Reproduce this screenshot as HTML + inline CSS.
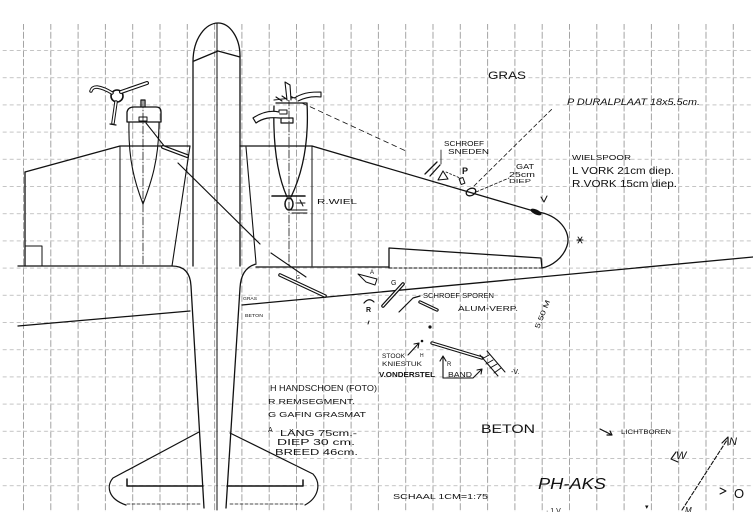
<!DOCTYPE html>
<html><head><meta charset="utf-8"><style>
html,body{margin:0;padding:0;background:#fff;}
svg{display:block;}
text{font-family:"Liberation Sans",sans-serif;fill:#111;}
</style></head><body>
<svg width="753" height="512" viewBox="0 0 753 512" xmlns="http://www.w3.org/2000/svg">
<defs>
<pattern id="g" patternUnits="userSpaceOnUse" x="23" y="50" width="27.3" height="27.2">
<path d="M0.5,0 V27.2" stroke="#9a9a9a" stroke-width="0.9" stroke-dasharray="7 2"/>
<path d="M0,0.5 H27.3" stroke="#c4c4c4" stroke-width="0.9" stroke-dasharray="4 3"/>
</pattern>
</defs>
<rect width="753" height="512" fill="#fff"/>
<rect x="0" y="24" width="753" height="488" fill="url(#g)"/>

<g fill="none" stroke="#111" stroke-width="1.3" stroke-linecap="round" stroke-linejoin="round">
<!-- fuselage -->
<path d="M193,62 C193,38 206,23 218,23 C230,23 240,38 240,56"/>
<path d="M194,61 L218,51 L240,57"/>
<path d="M193,62 L193,266"/>
<path d="M240,56 L240,266"/>
<path d="M217,23 L217,510" stroke-width="1"/>
<path d="M172,266 Q190,266 191,286 L204,508"/>
<path d="M190,146 L172,266" stroke-width="1.1"/>
<path d="M246,147 L256,263" stroke-width="1.1"/>
<path d="M256,264 Q241,268 240,288 L226,508"/>

<!-- left wing -->
<path d="M25,172 L120,146 L190,146"/>
<path d="M25,172 L25,266"/>
<path d="M18,266 L172,266"/>
<path d="M25,246 L42,246 L42,266" stroke-width="1"/>
<path d="M120,146 L120,266" stroke-width="1"/>
<path d="M143,100 L143,266" stroke-width="0.8" stroke-dasharray="8 2 1 2"/>

<!-- right wing -->
<path d="M240,146 L312,146 L537,212"/>
<path d="M312,146 L312,266" stroke-width="1"/>
<path d="M289,85 L289,266" stroke-width="0.8" stroke-dasharray="8 2 1 2"/>
<path d="M256,267 L389,267"/>
<path d="M389,268 L542,268" stroke-dasharray="3 2" stroke-width="1"/>
<path d="M389,268 L389,248 L541,258 L542,268"/>
<path d="M537,212 C558,214 572,232 567,246 C563,258 552,266 542,268"/>

<!-- left nacelle -->
<path d="M127,122 L127,112 Q128,107 134,107 L156,107 Q161,107 161,112 L161,122 Z"/>
<path d="M129,122 C128,160 135,183 143,204 C151,183 159,160 159,122" stroke-width="1.1"/>
<path d="M141,107 L141,100 L145,100 L145,107"/>
<rect x="139" y="117" width="8" height="4" stroke-width="1"/>
<path d="M146,123 L165,147" stroke-width="1.1"/>
<path d="M163,147 L187,156" stroke-width="4"/>
<path d="M163,147 L187,156" stroke="#fff" stroke-width="1.6"/>

<!-- left prop -->
<circle cx="117" cy="96" r="6" stroke-width="1.6"/>
<path d="M121,92 L147,83" stroke-width="4"/>
<path d="M121,92 L147,83" stroke="#fff" stroke-width="1.8"/>
<path d="M112,93 Q104,88 97,87 Q92,87 91,91" stroke-width="3.5"/>
<path d="M112,93 Q104,88 97,87 Q92,87 91,91" stroke="#fff" stroke-width="1.5"/>
<path d="M116,102 L113,123" stroke-width="3.5"/>
<path d="M116,102 L113,123" stroke="#fff" stroke-width="1.5"/>
<path d="M110,124 L116,125" stroke-width="1.2"/>

<!-- right nacelle -->
<path d="M276,103 L306,103"/>
<path d="M274,106 C273,140 276,172 287,197"/>
<path d="M307,103 C309,140 303,172 291,197"/>
<rect x="279" y="110" width="8" height="4" stroke-width="1"/>
<rect x="281" y="118" width="12" height="5" stroke-width="1.2"/>
<path d="M274,100 L300,97 M276,97 L282,101 M282,96 L288,100 M290,96 L296,99" stroke-width="1.1"/>
<path d="M279,112 C270,110 262,112 253,118 L256,123 C263,118 270,117 280,118" fill="#fff" stroke-width="1.2"/>
<path d="M287,100 L285,82 L290,85 L291,100" fill="#fff" stroke-width="1.1"/>
<path d="M296,97 C305,92 313,92 321,92 L321,97 C313,96 306,97 298,101" fill="#fff" stroke-width="1.1"/>
<path d="M302,103 L408,152" stroke-width="0.8" stroke-dasharray="5 4"/>
<!-- wheel -->
<path d="M272,196 L305,196" stroke-width="1.6"/>
<ellipse cx="289" cy="204" rx="4" ry="6" stroke-width="1.5"/>
<path d="M290,210 L307,210 M292,213 L307,213 M296,203 L305,203 M300,200 L303,206" stroke-width="1"/>

<!-- long diagonal -->
<path d="M178,163 L260,244" stroke-width="1.2"/>
<path d="M271,253 L306,277" stroke-width="1.1"/>
<path d="M280,275 L325,296" stroke-width="3.6"/>
<path d="M280,275 L325,296" stroke="#fff" stroke-width="1.4"/>

<!-- ground line -->
<path d="M18,326 L190,311"/>
<path d="M242,305 L753,257"/>

<!-- marks middle -->
<path d="M358,274 L377,279 L375,285 L366,282 Z" stroke-width="1"/>
<path d="M383,306 L403,284" stroke-width="3.6"/>
<path d="M383,306 L403,284" stroke="#fff" stroke-width="1.3"/>
<path d="M399,312 L413,298 L420,296" stroke-width="1.2"/>
<path d="M420,302 L437,310" stroke-width="3.4"/>
<path d="M420,302 L437,310" stroke="#fff" stroke-width="1.2"/>
<path d="M364,303 Q369,297 374,302" stroke-width="1.2"/>
<path d="M369,321 L368,324" stroke-width="1"/>
<path d="M408,355 L419,343 M414,344 L419,343 L418,348" stroke-width="1.1"/>
<path d="M432,343 L482,358" stroke-width="3.4"/>
<path d="M432,343 L482,358" stroke="#fff" stroke-width="1.2"/>
<path d="M480,355 L498,376 M487,351 L505,372 M482,359 L489,355 M486,364 L493,360 M490,368 L497,364 M494,373 L501,368" stroke-width="1"/>
<path d="M443,378 L443,356 M440,361 L443,356 L446,361" stroke-width="1.1"/>
<path d="M443,378 L473,378 L482,369 M477,370 L482,369 L481,374" stroke-width="1.1"/>

<!-- gat / schroef -->
<ellipse cx="471" cy="192" rx="5" ry="3.5" transform="rotate(-25 471 192)" stroke-width="1.3"/>
<rect x="460" y="178" width="4" height="6" transform="rotate(-20 462 181)" stroke-width="1"/>
<path d="M474,186 L553,108" stroke-width="0.8" stroke-dasharray="4 3"/>
<path d="M476,192 L509,178" stroke-width="0.8" stroke-dasharray="3 2"/>
<path d="M425,174 L437,162 M430,176 L440,165" stroke-width="1.3"/>
<path d="M438,180 L443,171 L448,179 Z" stroke-width="1.1"/>
<path d="M441,150 L441,164" stroke-width="0.8"/>
<path d="M446,172 L460,178" stroke-width="0.8" stroke-dasharray="2 2"/>
<path d="M541,197 L544,202 L547,196" stroke-width="1"/>
<path d="M578,237 L582,243 M582,237 L578,243 M577,240 L583,240" stroke-width="0.9"/>

<!-- tail -->
<path d="M199,432 L113,478 C106,486 108,499 126,505" stroke-width="1.2"/>
<path d="M127,479 L127,486 L203,486" stroke-width="1.5"/>
<path d="M127,504 L200,504" stroke-width="0.8" stroke-dasharray="3 2"/>
<path d="M230,433 L313,474 C322,484 318,498 305,505" stroke-width="1.2"/>
<path d="M303,480 L303,486 L227,486" stroke-width="1.5"/>
<path d="M230,504 L303,504" stroke-width="0.8" stroke-dasharray="3 2"/>

<!-- lichtboren arrow -->
<path d="M600,429 L612,435 M607,435 L612,435 L610,431" stroke-width="1.2"/>
<!-- compass -->
<path d="M682,510 L727,440" stroke-width="1.1" stroke-dasharray="4 2"/>
<path d="M722,443 L728,437 L728,445" stroke-width="1.2"/>
<path d="M676,452 L671,459 L678,462" stroke-width="1.1"/>
<path d="M720,488 L726,491 L720,494" stroke-width="1"/>
</g>

<ellipse cx="536" cy="212" rx="6" ry="2.5" transform="rotate(25 536 212)" fill="#111"/>
<circle cx="430" cy="327" r="1.6" fill="#111"/>
<circle cx="422" cy="341" r="1.3" fill="#111"/>

<!-- labels -->
<text x="488" y="79" font-size="11" textLength="38" lengthAdjust="spacingAndGlyphs">GRAS</text>
<text x="567" y="105" font-size="9" textLength="133" lengthAdjust="spacingAndGlyphs" font-style="italic">P DURALPLAAT 18x5.5cm.</text>
<text x="444" y="146" font-size="7" textLength="40" lengthAdjust="spacingAndGlyphs">SCHROEF</text>
<text x="448" y="154" font-size="7" textLength="41" lengthAdjust="spacingAndGlyphs">SNEDEN</text>
<text x="462" y="174" font-size="9" font-weight="bold">P</text>
<text x="516" y="169" font-size="7" textLength="18" lengthAdjust="spacingAndGlyphs">GAT</text>
<text x="509" y="177" font-size="7" textLength="26" lengthAdjust="spacingAndGlyphs">25cm</text>
<text x="509" y="183" font-size="5.5" textLength="22" lengthAdjust="spacingAndGlyphs">DIEP</text>
<text x="572" y="160" font-size="7.5" textLength="59" lengthAdjust="spacingAndGlyphs">WIELSPOOR</text>
<text x="572" y="174" font-size="10" textLength="102" lengthAdjust="spacingAndGlyphs">L VORK 21cm diep.</text>
<text x="572" y="187" font-size="10" textLength="105" lengthAdjust="spacingAndGlyphs">R.VORK 15cm diep.</text>
<text x="317" y="204" font-size="7" textLength="40" lengthAdjust="spacingAndGlyphs">R.WIEL</text>
<text x="243" y="300" font-size="4.5" textLength="14" lengthAdjust="spacingAndGlyphs">GRAS</text>
<text x="245" y="317" font-size="4.5" textLength="18" lengthAdjust="spacingAndGlyphs">BETON</text>
<text x="370" y="274" font-size="6">A</text>
<text x="296" y="279" font-size="5">G</text>
<text x="391" y="285" font-size="7">G</text>
<text x="366" y="312" font-size="7" font-weight="bold">R</text>
<text x="423" y="298" font-size="7" textLength="71" lengthAdjust="spacingAndGlyphs">SCHROEF SPOREN</text>
<text x="458" y="311" font-size="7" textLength="60" lengthAdjust="spacingAndGlyphs">ALUM-VERP.</text>
<text x="0" y="0" font-size="7" transform="translate(539,329) rotate(-68)" textLength="30" lengthAdjust="spacingAndGlyphs">5.50 M</text>
<text x="382" y="358" font-size="6" textLength="23" lengthAdjust="spacingAndGlyphs">STOOK</text>
<text x="420" y="357" font-size="5">H</text>
<text x="382" y="366" font-size="6.5" textLength="40" lengthAdjust="spacingAndGlyphs">KNIESTUK</text>
<text x="379" y="377" font-size="7" font-weight="bold" textLength="56" lengthAdjust="spacingAndGlyphs">V.ONDERSTEL</text>
<text x="447" y="366" font-size="6">R</text>
<text x="448" y="377" font-size="7" textLength="24" lengthAdjust="spacingAndGlyphs">BAND</text>
<text x="511" y="374" font-size="7">-V.</text>
<text x="270" y="391" font-size="8" textLength="107" lengthAdjust="spacingAndGlyphs">H HANDSCHOEN (FOTO)</text>
<text x="268" y="404" font-size="7" textLength="87" lengthAdjust="spacingAndGlyphs">R REMSEGMENT.</text>
<text x="268" y="417" font-size="7" textLength="98" lengthAdjust="spacingAndGlyphs">G GAFIN GRASMAT</text>
<text x="268" y="432" font-size="7">A</text>
<text x="280" y="436" font-size="8" textLength="77" lengthAdjust="spacingAndGlyphs">LÄNG 75cm.-</text>
<text x="277" y="445" font-size="8" textLength="78" lengthAdjust="spacingAndGlyphs">DIEP 30 cm.</text>
<text x="275" y="455" font-size="8" textLength="83" lengthAdjust="spacingAndGlyphs">BREED 46cm.</text>
<text x="481" y="433" font-size="12" textLength="54" lengthAdjust="spacingAndGlyphs">BETON</text>
<text x="621" y="434" font-size="6.5" textLength="50" lengthAdjust="spacingAndGlyphs">LICHTBOREN</text>
<text x="538" y="489" font-size="16" font-style="italic" textLength="68" lengthAdjust="spacingAndGlyphs">PH-AKS</text>
<text x="393" y="499" font-size="7.5" textLength="95" lengthAdjust="spacingAndGlyphs">SCHAAL 1CM=1:75</text>
<text x="729" y="445" font-size="11" font-style="italic">N</text>
<text x="676" y="459" font-size="11" font-style="italic">W</text>
<text x="734" y="498" font-size="13">O</text>
<text x="685" y="513" font-size="8" font-style="italic">M</text>
<text x="546" y="513" font-size="7">·  1 V    . . .</text>
<text x="645" y="509" font-size="7">▾</text>
</svg>
</body></html>
